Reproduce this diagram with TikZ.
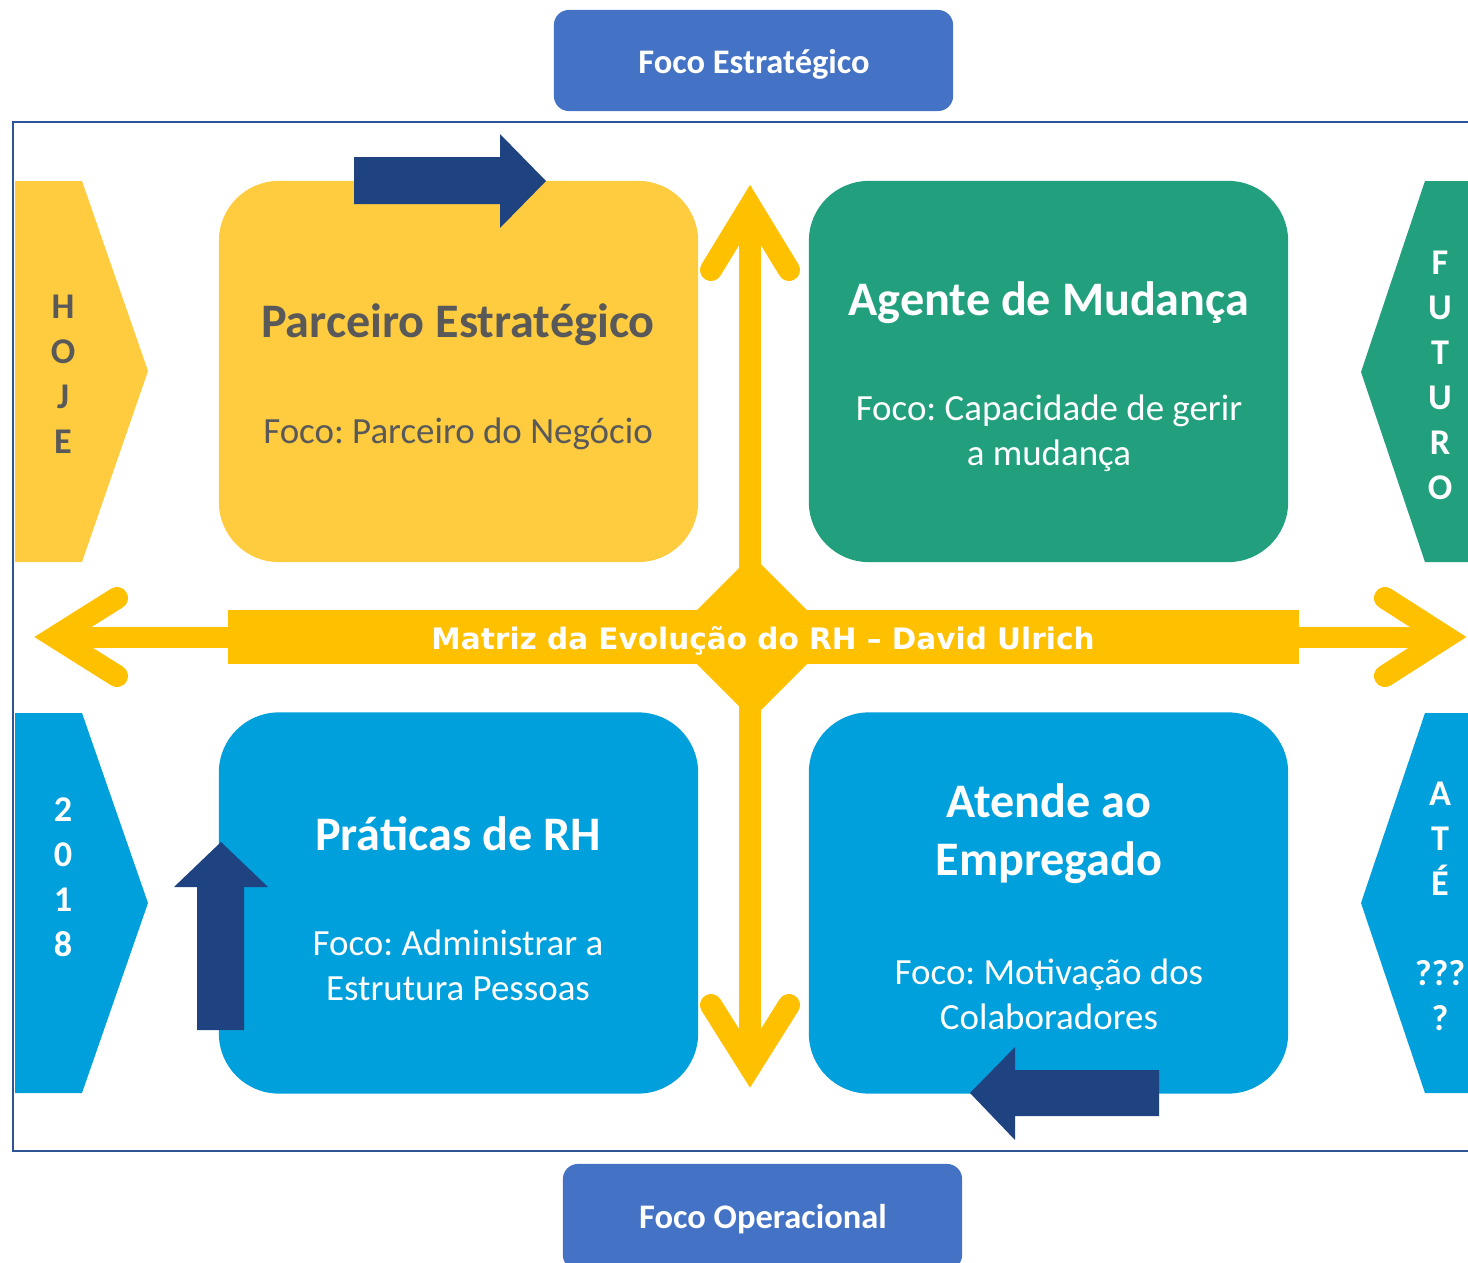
\documentclass[tikz,border=0pt]{standalone}
\usepackage{fontspec}
\setmainfont{Carlito}
\newfontfamily\matrizfont{DejaVu Sans}
\usepackage{xcolor}
\usepackage{tikz}
\usetikzlibrary{positioning}
\definecolor{gold}{HTML}{FFC000}
\definecolor{sand}{HTML}{FFCC40}
\definecolor{hrgreen}{HTML}{22A07E}
\definecolor{hrblue}{HTML}{00A0DC}
\definecolor{navy}{HTML}{1F4380}
\definecolor{btnblue}{HTML}{4472C4}
\definecolor{framecol}{HTML}{2F5496}
\definecolor{ink}{HTML}{595959}
\frenchspacing

\begin{document}
\begin{tikzpicture}[x=0.01cm,y=-0.01cm,
  quad/.style={rounded corners=0.6cm, minimum width=4.79cm, minimum height=3.81cm, inner sep=0pt},
  title/.style={font=\fontsize{13.7}{16.5}\selectfont\bfseries, align=center},
  focus/.style={font=\fontsize{10.5}{12.8}\selectfont, align=center},
  tag/.style={font=\fontsize{10.3}{12.8}\selectfont\bfseries, align=center},
  button/.style={fill=btnblue, rounded corners=0.15cm, minimum width=3.99cm, minimum height=1.01cm},
  btntext/.style={text=white, font=\fontsize{9.8}{12}\selectfont\bfseries},
  axis/.style={draw=gold, line width=0.22cm, line cap=round, line join=miter},
  shaft/.style={draw=gold, line width=0.21cm},
]
\clip (0,0) rectangle (1468,1263);
% frame
\draw[framecol, line width=0.02cm] (1480,122) -- (13,122) -- (13,1151) -- (1480,1151);
% side tags
\fill[sand] (15,181) -- (82,181) -- (148,371) -- (82,562) -- (15,562) -- cycle;
\fill[hrgreen] (1468,181) -- (1425,181) -- (1361,372) -- (1425,562) -- (1468,562) -- cycle;
\fill[hrblue] (15,713) -- (82,713) -- (148,903) -- (82,1093) -- (15,1093) -- cycle;
\fill[hrblue] (1468,713) -- (1425,713) -- (1361,903) -- (1425,1093) -- (1468,1093) -- cycle;
\node[tag, text=ink] (hoje) at (63,374) {H\\O\\J\\E};
\node[tag, text=white] (futuro) at (1440,375) {F\\U\\T\\U\\R\\O};
\node[tag, text=white] (ano) at (63,877) {2\\0\\1\\8};
\node[tag, text=white] (ate) at (1440,906) {A\\T\\É\\[12.8pt]???\\?};
% quadrants
\node[quad, fill=sand] (parceiro) at (458.5,371.5) {};
\node[quad, fill=hrgreen] (agente) at (1048.5,371.5) {};
\node[quad, fill=hrblue] (praticas) at (458.5,903) {};
\node[quad, fill=hrblue] (atende) at (1048.5,903) {};
% axes
\draw[shaft] (750,206) -- (750,1067);
\draw[axis] (711,270) -- (750,206) -- (789,270);
\draw[axis] (711,1005) -- (750,1067) -- (789,1005);
\draw[shaft] (55,637) -- (1446,637);
\draw[axis] (117,598) -- (55,637) -- (117,676);
\draw[axis] (1385,598) -- (1446,637) -- (1385,676);
\fill[gold] (228,610) rectangle (1299,664);
\fill[gold] (752,555) -- (834,637) -- (752,719) -- (670,637) -- cycle;
\node[text=white, font=\matrizfont\bfseries\fontsize{8.4}{10}\selectfont] (matriz) at (763,641) {Matriz da Evolução do RH – David Ulrich};
% texts
\node[title, text=ink] (parceirot) at (458,325) {Parceiro Estratégico};
\node[focus, text=ink] (parceirof) at (458,434) {Foco: Parceiro do Negócio};
\node[title, text=white] (agentet) at (1049,303) {Agente de Mudança};
\node[focus, text=white] (agentef) at (1049,433) {Foco: Capacidade de gerir\\a mudança};
\node[title, text=white] (praticast) at (458,834) {Práticas de RH};
\node[focus, text=white] (praticasf) at (458,965) {Foco: Administrar a\\Estrutura Pessoas};
\node[title, text=white] (atendet) at (1049,834) {Atende ao\\Empregado};
\node[focus, text=white] (atendef) at (1049,994) {Foco: Motivação dos\\Colaboradores};
% focus buttons
\node[button] (estrategico) at (753.5,60.5) {};
\node[btntext] (estrategicot) at (754,64) {Foco Estratégico};
\node[button, minimum height=1.06cm] (operacional) at (762.5,1217) {};
\node[btntext] (operacionalt) at (763,1219) {Foco Operacional};
% movement arrows
\fill[navy] (354,157) -- (500,157) -- (500,134) -- (546,181) -- (500,228) -- (500,204) -- (354,204) -- cycle;
\fill[navy] (197,1030) -- (197,887) -- (174,887) -- (221,842) -- (268,887) -- (244,887) -- (244,1030) -- cycle;
\fill[navy] (1159,1070) -- (1015,1070) -- (1015,1047) -- (970,1093) -- (1015,1140) -- (1015,1116) -- (1159,1116) -- cycle;
\end{tikzpicture}
\end{document}
